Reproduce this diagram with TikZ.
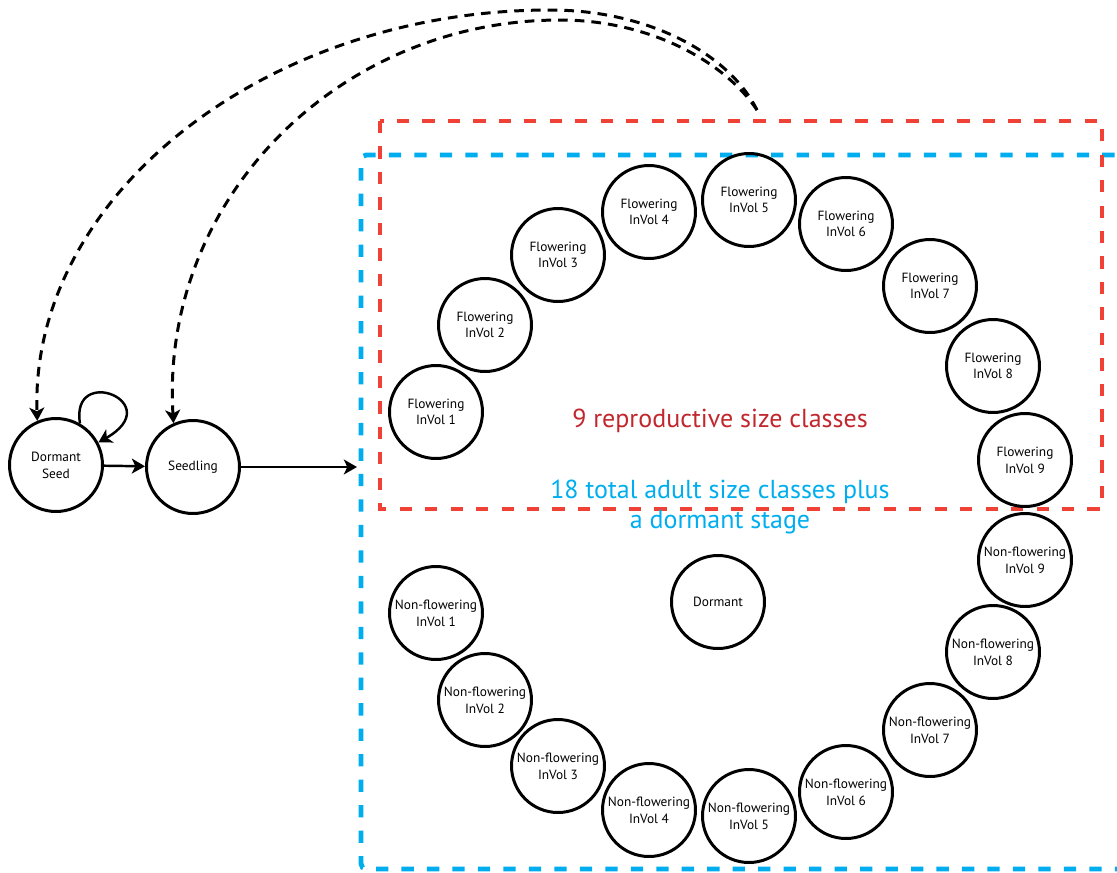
\documentclass[tikz,border=0pt]{standalone}
\usepackage{fontspec}
\setmainfont{PT Sans}
\usetikzlibrary{arrows.meta}

\definecolor{reprored}{HTML}{EF4136}
\definecolor{adultblue}{HTML}{00AEEF}
\definecolor{labelred}{HTML}{C1272D}

\begin{document}
\begin{tikzpicture}[x = 0.02cm, y = -0.02cm,
    stage/.style = {circle, draw, line width = 1.7pt, minimum size = 1.86cm, inner sep = 0pt,
                    align = center, font = \fontsize{7.6}{9.5}\selectfont},
    trans/.style = {line width = 1.4pt, -{Stealth[length = 7.5pt, width = 8.5pt, inset = 2pt]}},
    back/.style = {line width = 1.7pt, dash pattern = on 5.5pt off 4pt,
                   -{Stealth[length = 7.5pt, width = 8.5pt, inset = 2pt]}},
    group/.style = {line width = 2.8pt, dash pattern = on 7pt off 7.5pt},
    biglabel/.style = {align = center, font = \fontsize{14.8}{17}\selectfont}]
        \useasboundingbox (0,0) rectangle (1117,873);

        % the two groups of stages
        \draw[group, adultblue, rounded corners = 3pt] (1140,155) -- (361,155) -- (361,869) -- (1140,869);
        \draw[group, reprored] (380,121) rectangle (1102,509);

        \node[biglabel, labelred] (reprotext) at (720,421) {9 reproductive size classes};
        \node[biglabel, adultblue] (adulttext) at (720,507) {18 total adult size classes plus\\a dormant stage};

        % seed stages
        \node[stage] (dseed) at (56,465) {Dormant\\Seed};
        \node[stage] (seedling) at (193,467) {Seedling};

        % flowering stages
        \node[stage] (flow1) at (436,412) {Flowering\\InVol 1};
        \node[stage] (flow2) at (485,325) {Flowering\\InVol 2};
        \node[stage] (flow3) at (558,255) {Flowering\\InVol 3};
        \node[stage] (flow4) at (649,212) {Flowering\\InVol 4};
        \node[stage] (flow5) at (749,200) {Flowering\\InVol 5};
        \node[stage] (flow6) at (846,224) {Flowering\\InVol 6};
        \node[stage] (flow7) at (930,286) {Flowering\\InVol 7};
        \node[stage] (flow8) at (993,366) {Flowering\\InVol 8};
        \node[stage] (flow9) at (1025,460) {Flowering\\InVol 9};

        % non-flowering stages
        \node[stage] (nonflow9) at (1025,560) {Non-flowering\\InVol 9};
        \node[stage] (nonflow8) at (993,652) {Non-flowering\\InVol 8};
        \node[stage] (nonflow7) at (930,730) {Non-flowering\\InVol 7};
        \node[stage] (nonflow6) at (846,792) {Non-flowering\\InVol 6};
        \node[stage] (nonflow5) at (749,816) {Non-flowering\\InVol 5};
        \node[stage] (nonflow4) at (649,810) {Non-flowering\\InVol 4};
        \node[stage] (nonflow3) at (558,766) {Non-flowering\\InVol 3};
        \node[stage] (nonflow2) at (485,700) {Non-flowering\\InVol 2};
        \node[stage] (nonflow1) at (436,613) {Non-flowering\\InVol 1};

        \node[stage] (dormant) at (718,602) {Dormant};

        % transitions
        \coordinate (adultin) at (357,467);
        \coordinate (reproout) at (757,110);

        \draw[trans] (dseed) -- (seedling);
        \draw[trans] (seedling) -- (adultin);
        \draw[trans] (dseed.60) .. controls +(-10,-60) and +(70,-40) .. (dseed.28);

        \draw[back] (reproout) .. controls (730,55) and (650,10) .. (550,10)
                    .. controls (267,10) and (30,195) .. (dseed.113);
        \draw[back] (reproout) .. controls (725,62) and (650,20) .. (560,20)
                    .. controls (339,20) and (160,199) .. (seedling.114);
\end{tikzpicture}
\end{document}
